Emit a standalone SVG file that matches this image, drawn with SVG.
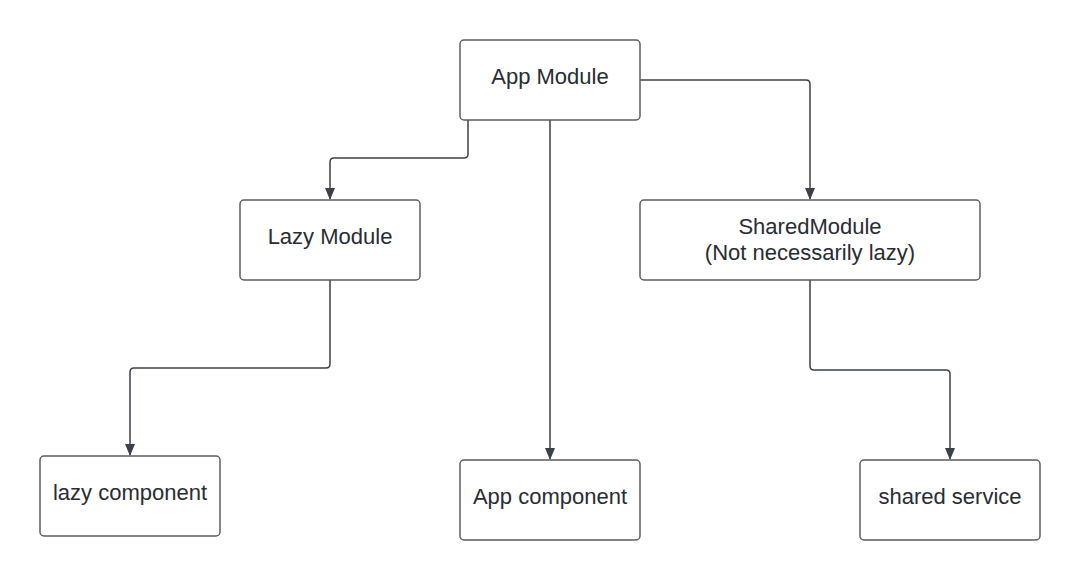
<svg xmlns="http://www.w3.org/2000/svg" width="1080" height="580" viewBox="0 0 1080 580">
<defs>
<style>
.box{fill:#ffffff;stroke:#5e5e5e;stroke-width:1.5}
.lbl{font-family:"Liberation Sans",Arial,sans-serif;font-size:22px;fill:#282c33;text-anchor:middle}
.con{fill:none;stroke:#3a414a;stroke-width:1.5}
</style>
<marker id="arr" markerWidth="12" markerHeight="14" refX="11" refY="6" orient="auto" markerUnits="userSpaceOnUse" viewBox="0 0 12 12">
<path d="M0,1 L12,6 L0,11 Z" fill="#3a414a"/>
</marker>
</defs>
<rect width="1080" height="580" fill="#ffffff"/>
<g id="connectors">
<path class="con" d="M468,120 V154 Q468,158 464,158 H334 Q330,158 330,162 V199" marker-end="url(#arr)"/>
<path class="con" d="M550,120 V459" marker-end="url(#arr)"/>
<path class="con" d="M640,80 H806 Q810,80 810,84 V199" marker-end="url(#arr)"/>
<path class="con" d="M330,280 V364 Q330,368 326,368 H134 Q130,368 130,372 V455" marker-end="url(#arr)"/>
<path class="con" d="M810,280 V366 Q810,370 814,370 H946 Q950,370 950,374 V459" marker-end="url(#arr)"/>
</g>
<g id="app-module">
<rect class="box" x="460" y="40" width="180" height="80" rx="4"/>
<text class="lbl" x="550" y="84">App Module</text>
</g>
<g id="lazy-module">
<rect class="box" x="240" y="200" width="180" height="80" rx="4"/>
<text class="lbl" x="330" y="244">Lazy Module</text>
</g>
<g id="shared-module">
<rect class="box" x="640" y="200" width="340" height="80" rx="4"/>
<text class="lbl" x="810" y="234">SharedModule</text>
<text class="lbl" x="810" y="260">(Not necessarily lazy)</text>
</g>
<g id="lazy-component">
<rect class="box" x="40" y="456" width="180" height="80" rx="4"/>
<text class="lbl" x="130" y="500">lazy component</text>
</g>
<g id="app-component">
<rect class="box" x="460" y="460" width="180" height="80" rx="4"/>
<text class="lbl" x="550" y="504">App component</text>
</g>
<g id="shared-service">
<rect class="box" x="860" y="460" width="180" height="80" rx="4"/>
<text class="lbl" x="950" y="504">shared service</text>
</g>
</svg>
